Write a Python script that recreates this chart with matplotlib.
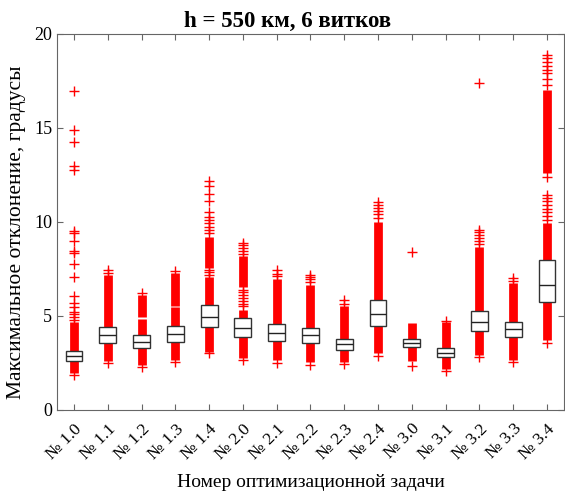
import matplotlib
matplotlib.use('Agg')
import matplotlib.pyplot as plt

plt.rcParams['font.family'] = ['Liberation Serif', 'DejaVu Serif']

labels = ['№ 1.0', '№ 1.1', '№ 1.2', '№ 1.3', '№ 1.4', '№ 2.0', '№ 2.1', '№ 2.2',
          '№ 2.3', '№ 2.4', '№ 3.0', '№ 3.1', '№ 3.2', '№ 3.3', '№ 3.4']
q1 = [2.62, 3.58, 3.28, 3.60, 4.40, 3.87, 3.67, 3.55, 3.19, 4.47, 3.33, 2.80, 4.17, 3.90, 5.73]
med = [2.84, 3.99, 3.60, 4.03, 4.96, 4.34, 4.08, 4.00, 3.49, 5.09, 3.55, 3.05, 4.68, 4.29, 6.65]
q3 = [3.15, 4.40, 3.99, 4.47, 5.60, 4.88, 4.56, 4.38, 3.76, 5.82, 3.76, 3.31, 5.28, 4.66, 7.98]

# dense runs of outliers (lo, hi)
dense = [
    [(1.97, 4.7)],
    [(2.62, 7.2)],
    [(2.4, 4.85), (4.92, 6.1)],
    [(2.66, 5.45), (5.55, 7.3)],
    [(3.1, 7.05), (7.55, 9.22)],
    [(2.75, 5.3), (6.56, 8.16)],
    [(2.66, 6.95)],
    [(2.57, 6.65)],
    [(2.57, 5.53)],
    [(3.01, 10.02)],
    [(2.62, 4.61)],
    [(2.16, 4.65)],
    [(2.93, 8.69)],
    [(2.66, 6.74)],
    [(3.72, 9.93), (12.6, 17.0)],
]
# single outliers
pluses = [
    [1.85, 4.79, 4.93, 5.1, 5.23, 5.46, 5.67, 6.06, 7.09, 7.75, 8.37, 8.47, 9.0, 9.4, 9.49,
     12.77, 13.0, 14.25, 14.9, 16.95],
    [2.5, 7.3, 7.45],
    [2.3, 6.2],
    [2.55, 7.4],
    [3.0, 7.2, 7.35, 7.45, 9.4, 9.57, 9.75, 9.93, 10.1, 10.28, 10.55, 11.13, 11.5, 11.9, 12.15],
    [2.67, 5.5, 5.65, 5.8, 5.95, 6.1, 6.25, 6.38, 8.3, 8.45, 8.6, 8.75, 8.87],
    [2.5, 7.1, 7.25, 7.45],
    [2.4, 6.8, 6.95, 7.05, 7.18],
    [2.45, 5.65, 5.85],
    [2.85, 10.2, 10.4, 10.6, 10.75, 10.9, 11.08],
    [2.34, 8.42],
    [2.05, 4.75],
    [2.8, 8.85, 9.0, 9.15, 9.3, 9.45, 9.57, 17.38],
    [2.55, 6.85, 7.0],
    [3.55, 10.1, 10.3, 10.5, 10.7, 10.9, 11.1, 11.25, 11.44, 12.41, 17.3, 17.6, 17.9, 18.1,
     18.3, 18.5, 18.7, 18.88],
]

fig = plt.figure(figsize=(5.65, 4.92), dpi=100)
ax = fig.add_axes([0.101, 0.167, 0.897, 0.764])

pos = list(range(1, len(labels) + 1))
for i, p in enumerate(pos):
    for lo, hi in dense[i]:
        ax.vlines(p, lo, hi, colors='red', linewidth=6.3, zorder=1)
    ax.plot([p] * len(pluses[i]), pluses[i], '+', color='red', markersize=7,
            markeredgewidth=1.0, zorder=1)

stats = []
for i in range(len(labels)):
    stats.append(dict(q1=q1[i], med=med[i], q3=q3[i], whislo=q1[i], whishi=q3[i], fliers=[]))
ax.bxp(stats, positions=pos, widths=0.5, patch_artist=True, showcaps=False,
       showfliers=False, manage_ticks=False,
       boxprops=dict(facecolor='white', edgecolor='#333333', linewidth=1.0),
       medianprops=dict(color='#222222', linewidth=1.0),
       whiskerprops=dict(linewidth=0))

ax.set_xlim(0.5, 15.5)
ax.set_ylim(0, 20)
ax.set_yticks([0, 5, 10, 15, 20])
ax.set_xticks(pos)
ax.set_xticklabels(labels, rotation=45, ha='right', rotation_mode='anchor', fontsize=12.5)
ax.tick_params(axis='y', labelsize=13)
ax.tick_params(axis='x', pad=8)
ax.tick_params(direction='in', top=True, right=True, length=4, color='#666666')
for s in ax.spines.values():
    s.set_color('#666666')

ax.set_title('h = 550 км, 6 витков', fontsize=16.5, fontweight='bold', pad=5, x=0.455)
ax.set_xlabel('Номер оптимизационной задачи', fontsize=14, labelpad=8)
ax.set_ylabel('Максимальное отклонение, градусы', fontsize=15.5, y=0.473, labelpad=6)

fig.savefig('out.png', dpi=100)
